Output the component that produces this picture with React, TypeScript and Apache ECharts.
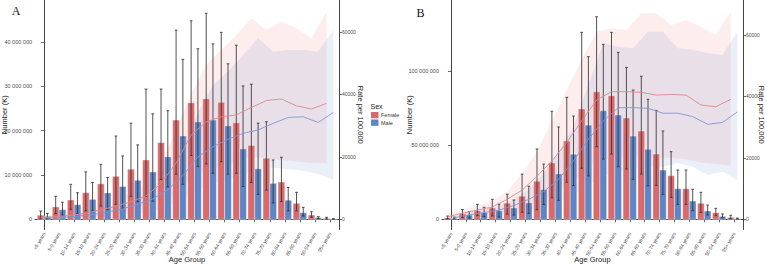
import React, { useEffect, useRef } from 'react';
import * as echarts from 'echarts';

const categories = [
  '<5 years', '5-9 years', '10-14 years', '15-19 years', '20-24 years', '25-29 years',
  '30-34 years', '35-39 years', '40-44 years', '45-49 years', '50-54 years', '55-59 years',
  '60-64 years', '65-69 years', '70-74 years', '75-79 years', '80-84 years', '85-89 years',
  '90-94 years', '95+ years',
];

// ---------- Panel A (numbers in millions) ----------
const femaleNumA = [0.93, 2.8, 4.36, 6.0, 8.0, 9.7, 11.3, 13.4, 17.3, 22.4, 26.3, 27.2, 26.4, 21.8, 16.7, 13.8, 8.4, 3.6, 0.97, 0.22];
const femaleLowA = [0.15, 1.3, 2.26, 1.9, 3.0, 3.4, 5.2, 5.2, 9.0, 10.2, 14.4, 12.5, 13.0, 10.4, 8.3, 6.6, 4.0, 1.9, 0.45, 0.08];
const femaleHighA = [1.87, 5.2, 7.9, 10.7, 12.4, 18.8, 21.7, 29.4, 29.4, 42.7, 44.8, 46.5, 42.2, 39.3, 30.5, 22.0, 14.0, 6.1, 1.7, 0.45];
const maleNumA = [0.68, 2.17, 3.3, 4.5, 5.95, 7.4, 8.8, 10.7, 14.1, 18.8, 22.0, 22.4, 21.1, 15.9, 11.4, 8.1, 4.3, 1.5, 0.36, 0.07];
const maleLowA = [0.12, 0.95, 1.3, 1.85, 2.2, 2.5, 4.0, 4.1, 7.3, 7.9, 11.9, 10.4, 10.2, 7.4, 5.6, 3.7, 1.9, 0.75, 0.18, 0.02];
const maleHighA = [1.35, 3.85, 6.0, 8.3, 9.45, 14.3, 16.8, 23.8, 24.5, 36.1, 38.5, 39.6, 35.1, 30.1, 21.7, 13.4, 7.2, 2.7, 0.6, 0.12];

const femaleRateA = [400, 800, 1300, 2000, 3000, 4200, 5600, 7500, 11500, 18000, 27000, 31200, 32800, 33400, 35800, 38000, 38500, 36300, 35300, 37100];
const femaleRateLowA = [150, 300, 500, 800, 1200, 1800, 2500, 3500, 5500, 8500, 13000, 15500, 17000, 18500, 20000, 19500, 19000, 18500, 18000, 18000];
const femaleRateHighA = [900, 1600, 2500, 3600, 5000, 6500, 8500, 11000, 17000, 29000, 40000, 49400, 54200, 59000, 64300, 60600, 63200, 61100, 57900, 66400];
const maleRateA = [300, 600, 1000, 1500, 2300, 3300, 4800, 6500, 9500, 14000, 20000, 23200, 25600, 27500, 28600, 30700, 32600, 32800, 31000, 34200];
const maleRateLowA = [100, 200, 350, 550, 850, 1300, 1900, 2700, 4200, 6500, 9500, 11500, 13000, 14500, 15800, 16500, 16000, 15500, 14500, 12600];
const maleRateHighA = [700, 1200, 2000, 2800, 3800, 5000, 6800, 9000, 14000, 24000, 34000, 43000, 47200, 52600, 57900, 53600, 54200, 54200, 53600, 60600];

// ---------- Panel B (numbers in millions) ----------
const femaleNumB = [1.1, 3.7, 5.8, 7.6, 10.9, 15.6, 25.7, 38.0, 52.8, 74.4, 86.0, 83.3, 68.3, 59.5, 44.0, 29.4, 20.6, 10.8, 4.4, 1.3];
const femaleLowB = [0.3, 1.2, 2.5, 2.3, 3.5, 4.8, 6.5, 14.5, 25.0, 34.4, 48.9, 44.0, 33.9, 30.5, 22.9, 14.8, 10.1, 4.7, 2.4, 0.4];
const femaleHighB = [2.2, 6.6, 10.1, 13.5, 16.9, 30.4, 47.4, 72.8, 82.2, 126.0, 136.5, 126.0, 102.4, 96.4, 73.4, 45.6, 33.2, 18.2, 7.4, 2.7];
const maleNumB = [0.67, 2.9, 4.45, 5.8, 7.7, 11.1, 20.0, 30.6, 43.9, 63.5, 73.2, 70.3, 56.1, 47.2, 33.2, 20.6, 12.3, 5.6, 2.0, 0.4];
const maleLowB = [0.2, 0.8, 1.8, 1.5, 2.9, 4.0, 10.0, 12.8, 22.7, 29.2, 40.6, 35.4, 27.0, 22.6, 16.8, 10.1, 5.8, 2.9, 1.1, 0.15];
const maleHighB = [1.5, 5.2, 8.1, 10.1, 13.0, 22.3, 37.2, 62.2, 69.6, 109.6, 117.9, 112.5, 87.1, 80.9, 59.5, 33.2, 20.2, 9.6, 3.6, 0.8];

const femaleRateB = [800, 2000, 3000, 4000, 6500, 9500, 14000, 19000, 25000, 32000, 38800, 41500, 41500, 41300, 40400, 40600, 40400, 37200, 36600, 39000];
const femaleRateLowB = [300, 800, 1200, 1700, 2500, 3800, 5500, 8000, 11000, 14500, 19000, 20000, 20500, 20500, 20000, 20000, 19500, 18500, 18000, 17500];
const femaleRateHighB = [1500, 3000, 4500, 6000, 9000, 15000, 22000, 32000, 42000, 52000, 61000, 62100, 61600, 67000, 67000, 63200, 64800, 62600, 59900, 67500];
const maleRateB = [500, 1500, 2200, 3000, 4500, 6500, 9000, 13000, 19000, 26000, 32000, 36300, 36300, 36100, 34500, 34500, 33400, 30900, 31500, 34900];
const maleRateLowB = [200, 500, 800, 1100, 1700, 2500, 3800, 5500, 8000, 11000, 14000, 15500, 16500, 17000, 17100, 18200, 17100, 14400, 15500, 12800];
const maleRateHighB = [1000, 2200, 3200, 4300, 6500, 10000, 15000, 22000, 30000, 44000, 57200, 56100, 55600, 61000, 61000, 55600, 55100, 54000, 53400, 61000];

const numberTicksA = [0, 10000000, 20000000, 30000000, 40000000];
const numberTicksB = [0, 50000000, 100000000];
const rateTicks = [0, 20000, 40000, 60000];

const RED = '#D96A6B';
const BLUE = '#5E86C4';
const RED_LINE = '#D98A8E';
const BLUE_LINE = '#8294D2';
const PINK_FILL = 'rgba(240,110,110,0.12)';
const BLUE_FILL = 'rgba(90,120,200,0.12)';
const AXIS_COLOR = '#444';
const LABEL_COLOR = '#4D4D4D';
const FONT = '"Liberation Sans", Arial, sans-serif';
const DODGE = 0.225;
const BAR_W = 0.45;
const CAP = 0.18;

const idx = categories.map((_, i) => i);
const fmtNum = (v: number) => Math.round(v).toString().replace(/\B(?=(\d{3})+(?!\d))/g, ' ');

function barSeries(name: string, vals: number[], off: number, color: string, xi: number, yi: number) {
  return {
    type: 'custom', name, xAxisIndex: xi, yAxisIndex: yi, z: 3, silent: true,
    data: vals.map((v, i) => [i + off, v * 1e6]),
    renderItem: (_p: any, api: any) => {
      const x = api.value(0);
      const top = api.coord([x, api.value(1)]);
      const base = api.coord([x, 0]);
      const w = api.size([BAR_W, 0])[0];
      return {
        type: 'rect',
        shape: { x: top[0] - w / 2, y: top[1], width: w, height: base[1] - top[1] },
        style: { fill: color, stroke: '#fff', lineWidth: 0.4 },
      };
    },
  };
}

function errSeries(lows: number[], highs: number[], off: number, xi: number, yi: number) {
  return {
    type: 'custom', xAxisIndex: xi, yAxisIndex: yi, z: 4, silent: true,
    data: lows.map((l, i) => [i + off, l * 1e6, highs[i] * 1e6]),
    encode: { x: 0, y: [1, 2] },
    renderItem: (_p: any, api: any) => {
      const x = api.value(0);
      const lo = api.coord([x, api.value(1)]);
      const hi = api.coord([x, api.value(2)]);
      const cw = api.size([CAP, 0])[0];
      const st = { stroke: '#333', lineWidth: 0.85 };
      return {
        type: 'group',
        children: [
          { type: 'line', shape: { x1: lo[0], y1: lo[1], x2: hi[0], y2: hi[1] }, style: st },
          { type: 'line', shape: { x1: hi[0] - cw / 2, y1: hi[1], x2: hi[0] + cw / 2, y2: hi[1] }, style: st },
          { type: 'line', shape: { x1: lo[0] - cw / 2, y1: lo[1], x2: lo[0] + cw / 2, y2: lo[1] }, style: st },
        ],
      };
    },
  };
}

function ribbonSeries(lower: number[], upper: number[], off: number, fill: string, xi: number, yi: number) {
  return {
    type: 'custom', xAxisIndex: xi, yAxisIndex: yi, z: 1, silent: true,
    data: [[0, 0]],
    renderItem: (_p: any, api: any) => {
      const pts: number[][] = [];
      upper.forEach((u, i) => pts.push(api.coord([i + off, u])));
      for (let i = lower.length - 1; i >= 0; i--) pts.push(api.coord([i + off, lower[i]]));
      return { type: 'polygon', shape: { points: pts }, style: { fill, stroke: 'none' } };
    },
  };
}

function lineSeries(vals: number[], off: number, color: string, xi: number, yi: number) {
  return {
    type: 'line', xAxisIndex: xi, yAxisIndex: yi, z: 5, silent: true,
    showSymbol: false, symbol: 'none',
    data: vals.map((v, i) => [i + off, v]),
    lineStyle: { color, width: 0.9 },
  };
}

const nameStyle = { fontSize: 7.5, color: '#222', fontFamily: FONT };

function xAxisFor(gridIndex: number) {
  return {
    type: 'value', gridIndex, min: -0.6, max: 19.6,
    axisLine: { show: true, lineStyle: { color: AXIS_COLOR, width: 1 } },
    axisTick: { show: true, customValues: idx, length: 3, lineStyle: { color: AXIS_COLOR, width: 0.8 } },
    axisLabel: {
      customValues: idx, rotate: 60, margin: 3, fontSize: 5, color: LABEL_COLOR, fontFamily: FONT,
      formatter: (v: number) => categories[Math.round(v)] ?? '',
    },
    splitLine: { show: false },
    name: 'Age Group', nameLocation: 'middle', nameGap: 26, nameMoveOverlap: false,
    nameTextStyle: nameStyle,
  };
}

function leftAxis(gridIndex: number, min: number, max: number, ticks: number[], gap: number) {
  return {
    type: 'value', gridIndex, position: 'left', min, max,
    axisLine: { show: true, lineStyle: { color: AXIS_COLOR, width: 1 } },
    axisTick: { show: true, customValues: ticks, length: 3, lineStyle: { color: AXIS_COLOR, width: 0.8 } },
    axisLabel: { customValues: ticks, margin: 3, fontSize: 5.5, color: LABEL_COLOR, fontFamily: FONT, formatter: fmtNum },
    splitLine: { show: false },
    name: 'Number (K)', nameLocation: 'middle', nameGap: gap, nameRotate: 90, nameMoveOverlap: false,
    nameTextStyle: nameStyle,
  };
}

function rightAxis(gridIndex: number, min: number, max: number, gap: number) {
  return {
    type: 'value', gridIndex, position: 'right', min, max,
    axisLine: { show: true, lineStyle: { color: AXIS_COLOR, width: 1 } },
    axisTick: { show: true, customValues: rateTicks, length: 3, lineStyle: { color: AXIS_COLOR, width: 0.8 } },
    axisLabel: { customValues: rateTicks, margin: 3, fontSize: 5, color: LABEL_COLOR, fontFamily: FONT, formatter: (v: number) => String(Math.round(v)) },
    splitLine: { show: false },
    name: 'Rate per 100,000', nameLocation: 'middle', nameGap: gap, nameRotate: -90, nameMoveOverlap: false,
    nameTextStyle: nameStyle,
  };
}

export default function App() {
  const ref = useRef<HTMLDivElement>(null);
  useEffect(() => {
    if (!ref.current) return;
    const chart = echarts.init(ref.current, undefined, { renderer: 'svg' });
    const option: any = {
      animation: false,
      backgroundColor: '#fff',
      grid: [
        { left: 35, top: 0, width: 304, height: 229.5, containLabel: false, outerBoundsMode: 'none' },
        { left: 442, top: 0, width: 301, height: 229.5, containLabel: false, outerBoundsMode: 'none' },
      ],
      xAxis: [xAxisFor(0), xAxisFor(1)],
      yAxis: [
        leftAxis(0, -2.3e6, 49.5e6, numberTicksA, 26.5),
        rightAxis(0, -3260, 70170, 17),
        leftAxis(1, -6.87e6, 147.8e6, numberTicksB, 28.5),
        rightAxis(1, -3317, 71317, 14.5),
      ],
      series: [
        // Panel A
        ribbonSeries(femaleRateLowA, femaleRateHighA, -DODGE, PINK_FILL, 0, 1),
        ribbonSeries(maleRateLowA, maleRateHighA, DODGE, BLUE_FILL, 0, 1),
        barSeries('Female', femaleNumA, -DODGE, RED, 0, 0),
        barSeries('Male', maleNumA, DODGE, BLUE, 0, 0),
        errSeries(femaleLowA, femaleHighA, -DODGE, 0, 0),
        errSeries(maleLowA, maleHighA, DODGE, 0, 0),
        lineSeries(femaleRateA, -DODGE, RED_LINE, 0, 1),
        lineSeries(maleRateA, DODGE, BLUE_LINE, 0, 1),
        // Panel B
        ribbonSeries(femaleRateLowB, femaleRateHighB, -DODGE, PINK_FILL, 1, 3),
        ribbonSeries(maleRateLowB, maleRateHighB, DODGE, BLUE_FILL, 1, 3),
        barSeries('Female', femaleNumB, -DODGE, RED, 1, 2),
        barSeries('Male', maleNumB, DODGE, BLUE, 1, 2),
        errSeries(femaleLowB, femaleHighB, -DODGE, 1, 2),
        errSeries(maleLowB, maleHighB, DODGE, 1, 2),
        lineSeries(femaleRateB, -DODGE, RED_LINE, 1, 3),
        lineSeries(maleRateB, DODGE, BLUE_LINE, 1, 3),
      ],
      graphic: [
        { type: 'text', x: 16, y: 11, style: { text: 'A', fontSize: 12, fontFamily: '"Liberation Serif", "Times New Roman", serif', fill: '#111', align: 'center', verticalAlign: 'middle' } },
        { type: 'text', x: 420.5, y: 12.5, style: { text: 'B', fontSize: 12, fontFamily: '"Liberation Serif", "Times New Roman", serif', fill: '#111', align: 'center', verticalAlign: 'middle' } },
        { type: 'text', x: 370.5, y: 106, style: { text: 'Sex', fontSize: 7, fontFamily: FONT, fill: '#222', verticalAlign: 'middle' } },
        { type: 'rect', shape: { x: 371, y: 112, width: 7.5, height: 6.3 }, style: { fill: RED } },
        { type: 'text', x: 381, y: 115.2, style: { text: 'Female', fontSize: 5.5, fontFamily: FONT, fill: '#333', verticalAlign: 'middle' } },
        { type: 'rect', shape: { x: 371, y: 119.5, width: 7.5, height: 6.3 }, style: { fill: BLUE } },
        { type: 'text', x: 381, y: 122.7, style: { text: 'Male', fontSize: 5.5, fontFamily: FONT, fill: '#333', verticalAlign: 'middle' } },
      ],
    };
    chart.setOption(option);
    return () => chart.dispose();
  }, []);
  return <div ref={ref} style={{ position: 'fixed', left: 0, top: 0, width: 767, height: 266 }} />;
}
